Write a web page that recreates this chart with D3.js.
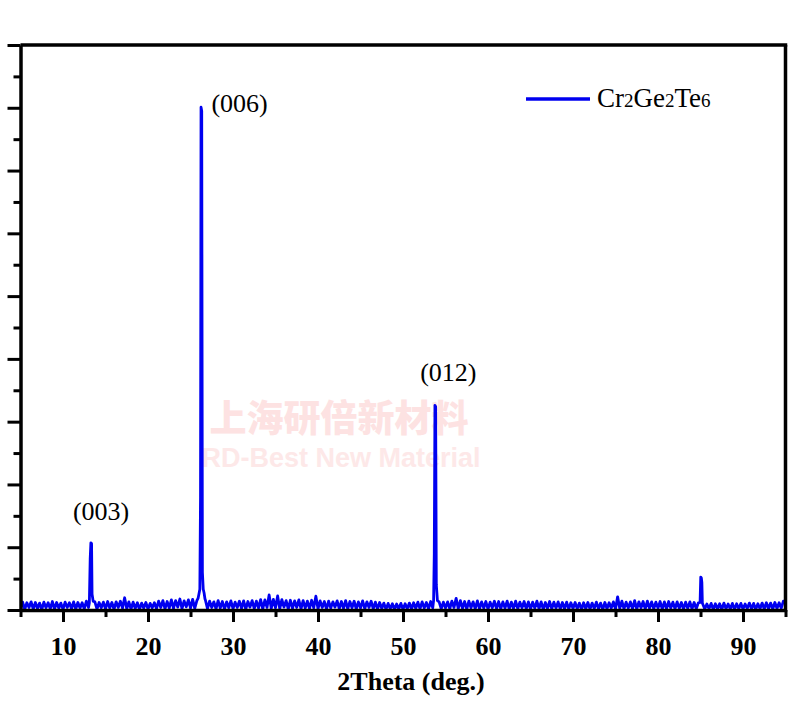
<!DOCTYPE html>
<html>
<head>
<meta charset="utf-8">
<script src="https://cdn.jsdelivr.net/npm/d3@7"></script>
<style>
  html, body { margin: 0; padding: 0; background: #fff; }
  svg { display: block; }
</style>
</head>
<body>
<svg id="chart" width="800" height="714"></svg>
<script>
// ---- Data ----
const xStart = 5, xStep = 0.25;           // baseline sampling: 5°, 5.25°, ... 95°
const baseline = [
  30,125,10,115,40,130,15,120,
  25,110,8,125,35,115,18,135,
  15,120,30,110,10,125,40,115,
  20,130,15,120,30,115,18,140,
  40,125,20,130,15,120,35,125,
  18,135,30,120,10,130,40,140,
  30,195,20,130,15,125,25,115,
  10,110,30,120,15,105,35,115,
  20,140,40,150,18,135,30,160,
  25,150,45,175,20,145,50,160,
  30,170,25,150,40,180,60,160,
  20,140,40,130,18,150,30,135,
  15,130,35,145,20,125,40,140,
  25,145,15,135,45,150,20,140,
  30,165,18,160,40,240,25,170,
  35,225,20,165,45,150,15,155,
  25,145,40,160,18,150,30,140,
  20,155,35,220,18,145,40,135,
  15,140,30,130,45,145,20,135,
  25,150,18,135,35,140,15,130,
  30,145,20,130,40,140,18,125,
  15,120,25,110,10,105,20,100,
  8,95,18,105,10,100,20,110,
  15,115,25,125,18,130,30,120,
  20,135,35,140,25,130,18,125,
  30,130,18,140,40,185,20,150,
  25,135,15,140,35,130,20,145,
  18,130,30,135,15,125,35,140,
  20,135,18,130,30,140,15,125,
  25,140,20,125,35,135,18,130,
  15,125,30,140,20,130,10,120,
  25,135,18,125,30,130,15,120,
  20,125,15,115,25,120,18,110,
  10,115,20,120,15,110,25,125,
  18,110,10,120,20,115,30,130,
  15,210,25,140,18,125,30,130,
  20,150,15,130,35,135,18,140,
  25,130,18,125,30,135,15,130,
  20,135,30,125,18,130,25,120,
  15,125,25,130,18,120,20,115,
  30,100,15,95,20,105,10,100,
  18,100,8,110,20,95,15,105,
  10,100,20,105,15,95,25,110,
  18,105,10,100,20,110,15,115,
  20,110,15,120,25,115,30,140,
  130
];
// peak profiles: [2θ, intensity]
const peak003 = [[13.1,110],[13.2,820],[13.28,1070],[13.36,1060],[13.42,250],[13.55,140]];
const peak006 = [[25.9,190],[26.0,260],[26.1,330],[26.18,1800],[26.24,8010],[26.32,7950],[26.4,600],[26.5,330],[26.6,270],[26.7,180]];
const peak012 = [[53.6,150],[53.68,900],[53.76,3260],[53.84,3240],[53.92,400],[54.05,150]];
const peak085 = [[84.95,120],[85.03,525],[85.1,510],[85.16,440],[85.22,110]];
const peakLabels = ["(003)", "(006)", "(012)"];
const peakAngles = [13.3, 26.3, 53.8];
const peakHeights = [1070, 8010, 3260];
const xTicks = [10,20,30,40,50,60,70,80,90];
const xMinorTicks = [5,15,25,35,45,55,65,75,85,95];
const yTicks = [0,1000,2000,3000,4000,5000,6000,7000,8000,9000];
const yMinorTicks = [500,1500,2500,3500,4500,5500,6500,7500,8500];
const xDomain = [5, 95];
const yDomain = [0, 9000];
const seriesName = ["Cr","2","Ge","2","Te","6"];
const xTitle = "2Theta (deg.)";
const watermarkCN = "上海研倍新材料";
const watermarkEN = "RD-Best New Material";

// ---- Build series ----
const peaks = [peak003, peak006, peak012, peak085];
const windows = peaks.map(p => [p[0][0], p[p.length-1][0]]);
let pts = baseline.map((v,i) => [xStart + i*xStep, v])
  .filter(d => !windows.some(w => d[0] >= w[0] && d[0] <= w[1]));
peaks.forEach(p => pts = pts.concat(p));
pts.sort((a,b) => a[0]-b[0]);

// ---- Layout ----
const L = 20.5, R = 785.5, T = 45, B = 610;
const svg = d3.select("#chart");
const x = d3.scaleLinear().domain(xDomain).range([L, R]);
const y = d3.scaleLinear().domain(yDomain).range([B, T]);
const serif = "'Liberation Serif','Times New Roman',serif";
const blue = "#0000f0";

// watermark (behind data)
svg.append("text").attr("x", 339).attr("y", 432).attr("text-anchor","middle")
  .attr("font-family","'Noto Sans CJK SC',sans-serif").attr("font-weight","900")
  .attr("font-size", 37).attr("fill","#fde2e2").text(watermarkCN);
svg.append("text").attr("x", 341).attr("y", 467).attr("text-anchor","middle")
  .attr("font-family","'Liberation Sans',Arial,sans-serif").attr("font-weight","bold")
  .attr("font-size", 27).attr("fill","#fde8e8").text(watermarkEN);

// clip
svg.append("clipPath").attr("id","clip").append("rect")
  .attr("x", L).attr("y", T).attr("width", R-L).attr("height", B-T);

// data line
svg.append("path").datum(pts)
  .attr("clip-path","url(#clip)")
  .attr("fill","none").attr("stroke", blue).attr("stroke-width", 2.8)
  .attr("stroke-linejoin","round")
  .attr("d", d3.line().x(d => x(d[0])).y(d => y(d[1])));

// axes
const axW = 3.5;
function styleAxis(g) {
  g.selectAll("path").attr("stroke","#000").attr("stroke-width", axW);
  g.selectAll("line").attr("stroke","#000").attr("stroke-width", 3);
}
const gx = svg.append("g").attr("transform", `translate(0,${B})`)
  .call(d3.axisBottom(x).tickValues(xTicks).tickSize(12).tickSizeOuter(0).tickFormat(d3.format("d")));
styleAxis(gx);
gx.selectAll("text").attr("y", 45).attr("dy", 0)
  .attr("font-family", serif).attr("font-weight","bold").attr("font-size", 26).attr("fill","#000");
const gxm = svg.append("g").attr("transform", `translate(0,${B})`)
  .call(d3.axisBottom(x).tickValues(xMinorTicks).tickSize(7).tickSizeOuter(0).tickFormat(""));
styleAxis(gxm); gxm.select("path").remove();

const gy = svg.append("g").attr("transform", `translate(${L},0)`)
  .call(d3.axisLeft(y).tickValues(yTicks).tickSize(13).tickSizeOuter(0).tickFormat(""));
styleAxis(gy);
const gym = svg.append("g").attr("transform", `translate(${L},0)`)
  .call(d3.axisLeft(y).tickValues(yMinorTicks).tickSize(7).tickSizeOuter(0).tickFormat(""));
styleAxis(gym); gym.select("path").remove();

// top and right frame
svg.append("line").attr("x1", L).attr("x2", R+axW/2).attr("y1", T).attr("y2", T)
  .attr("stroke","#000").attr("stroke-width", axW);
svg.append("line").attr("x1", R).attr("x2", R).attr("y1", T).attr("y2", B+axW/2)
  .attr("stroke","#000").attr("stroke-width", axW);

// axis title
svg.append("text").attr("x", 411).attr("y", 690).attr("text-anchor","middle")
  .attr("font-family", serif).attr("font-weight","bold").attr("font-size", 26)
  .attr("fill","#000").text(xTitle);

// peak labels
const labelDx = [10, 38, 13];
const labelDy = [-23, 5, -24];
peakLabels.forEach((t,i) => {
  svg.append("text")
    .attr("x", x(peakAngles[i]) + labelDx[i])
    .attr("y", y(peakHeights[i]) + labelDy[i])
    .attr("text-anchor","middle")
    .attr("font-family", serif).attr("font-size", 26).attr("fill","#000").text(t);
});

// legend
svg.append("line").attr("x1", 526).attr("x2", 590).attr("y1", 99).attr("y2", 99)
  .attr("stroke", blue).attr("stroke-width", 3.5);
const lt = svg.append("text").attr("x", 597).attr("y", 107)
  .attr("font-family", serif).attr("font-size", 27).attr("fill","#000");
seriesName.forEach((s,i) => {
  lt.append("tspan").attr("font-size", i % 2 ? 19 : 27).text(s);
});
</script>
</body>
</html>
